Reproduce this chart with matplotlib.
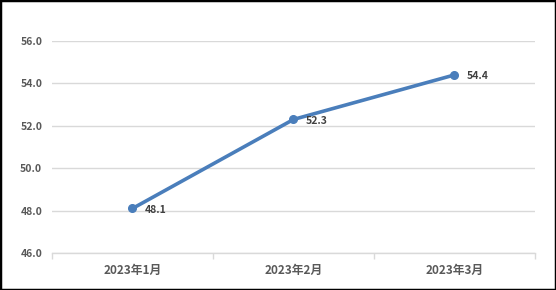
import matplotlib.pyplot as plt
from matplotlib.patches import Rectangle

plt.rcParams['font.family'] = ['Noto Sans CJK SC', 'DejaVu Sans']

# datos
meses = ['2023年1月', '2023年2月', '2023年3月']
valores = [48.1, 52.3, 54.4]
y_ticks = [46.0, 48.0, 50.0, 52.0, 54.0, 56.0]

fig = plt.figure(figsize=(5.56, 2.9), dpi=100)
ax = fig.add_axes([0.0935, 0.1276, 0.8687, 0.731])

x = list(range(len(meses)))
ax.plot(x, valores, color='#4a7ebb', linewidth=2.6, marker='o', markersize=5.5,
        solid_capstyle='round', zorder=3)
for xi, v in zip(x, valores):
    ax.annotate(f'{v:.1f}', (xi, v), xytext=(9, -1), textcoords='offset points',
                ha='left', va='center', fontsize=7.5, fontweight='bold', color='#404040')

ax.set_xlim(-0.5, len(meses) - 0.5)
ax.set_ylim(46, 56)
ax.set_yticks(y_ticks)
ax.set_yticklabels([f'{t:.1f}' for t in y_ticks], fontsize=7.5, fontweight='bold', color='#595959')
ax.set_xticks(x)
ax.set_xticklabels(meses, fontsize=8.5, fontweight='bold', color='#595959')
ax.tick_params(axis='y', length=0, pad=7)
ax.tick_params(axis='x', length=0, pad=8)

# marcas en los límites de categoría
ax.set_xticks([-0.5, 0.5, 1.5, 2.5], minor=True)
ax.tick_params(axis='x', which='minor', length=4, color='#d9d9d9', width=1)

ax.grid(axis='y', color='#d9d9d9', linewidth=1)
ax.set_axisbelow(True)
for s in ['top', 'right', 'left']:
    ax.spines[s].set_visible(False)
ax.spines['bottom'].set_color('#d9d9d9')
ax.spines['bottom'].set_linewidth(1)

# borde negro de la figura
fig.patches.append(Rectangle((0, 0), 1, 1, transform=fig.transFigure, fill=False,
                             edgecolor='black', linewidth=2.5))

fig.savefig('out.png', dpi=100)
